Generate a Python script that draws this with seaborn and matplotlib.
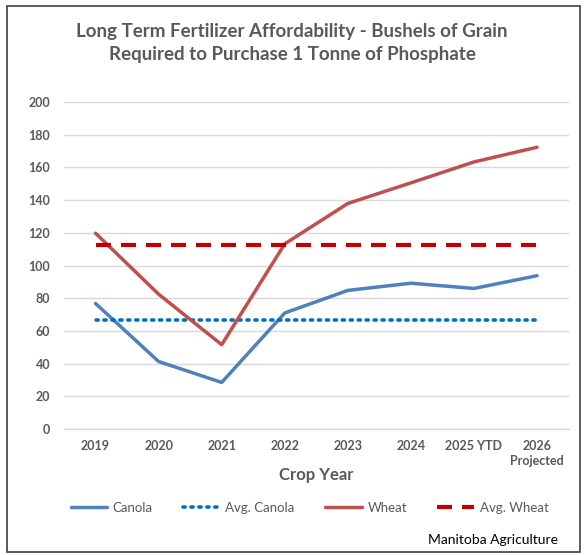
import matplotlib
matplotlib.use("Agg")
import matplotlib.pyplot as plt
import seaborn as sns
import pandas as pd
import numpy as np
from matplotlib.patches import Rectangle

years = ["2019", "2020", "2021", "2022", "2023", "2024", "2025 YTD", "2026\nProjected"]
canola = [76.8, 41.3, 28.5, 71.0, 84.8, 89.2, 86.0, 93.8]
wheat = [119.8, 82.5, 51.6, 113.3, 138.0, 150.6, 163.4, 172.4]
avg_canola_value = 66.4
avg_wheat_value = 112.4
y_ticks = [0, 20, 40, 60, 80, 100, 120, 140, 160, 180, 200]

sns.set_theme(style="white")
plt.rcParams['font.family'] = ['Lato', 'DejaVu Sans']

n = len(years)
df = pd.DataFrame({
    "pos": list(range(n)) * 4,
    "value": canola + [avg_canola_value] * n + wheat + [avg_wheat_value] * n,
    "series": ["Canola"] * n + ["Avg. Canola"] * n + ["Wheat"] * n + ["Avg. Wheat"] * n,
})

fig = plt.figure(figsize=(5.84, 5.55), dpi=100)
ax = fig.add_axes([0.1096, 0.227, 0.864, 0.589])

palette = {"Canola": "#4F81BD", "Avg. Canola": "#0070C0", "Wheat": "#C0504D", "Avg. Wheat": "#C00000"}
styles = {"Canola": (None, 2.5), "Avg. Canola": ((0, (0.6, 1.6)), 2.6),
          "Wheat": (None, 2.5), "Avg. Wheat": ((0, (3.6, 2.4)), 3.0)}

for name in ["Canola", "Avg. Canola", "Wheat", "Avg. Wheat"]:
    sub = df[df.series == name]
    ls, lw = styles[name]
    sns.lineplot(data=sub, x="pos", y="value", ax=ax, color=palette[name],
                 linewidth=lw, label=name, legend=False)
    line = ax.lines[-1]
    if ls is not None:
        line.set_linestyle(ls)
        if name == "Avg. Canola":
            line.set_dash_capstyle("round")

ax.set_xlim(-0.5, n - 0.5)
ax.set_ylim(0, 200)
ax.set_yticks(y_ticks)
ax.set_yticklabels([str(t) for t in y_ticks], fontsize=9, fontweight="bold", color="#595959")
ax.set_xticks(range(n))
ax.set_xticklabels(years, fontsize=9, fontweight="bold", color="#595959", linespacing=1.25, va="top")
ax.set_xticks(np.arange(-0.5, n, 1.0), minor=True)
ax.tick_params(axis="x", which="major", length=0, pad=8)
ax.tick_params(axis="x", which="minor", length=5, color="#D9D9D9", width=1)
ax.tick_params(axis="y", length=0, pad=10)
for lbl in ax.get_yticklabels():
    lbl.set_horizontalalignment("right")

ax.grid(axis="y", color="#D9D9D9", linewidth=1)
ax.set_axisbelow(True)
for s in ["left", "right", "top"]:
    ax.spines[s].set_visible(False)
ax.spines["bottom"].set_color("#D9D9D9")
ax.spines["bottom"].set_linewidth(1)

ax.set_xlabel("Crop Year", fontsize=12, fontweight="bold", color="#595959", labelpad=0)
ax.set_ylabel("")

fig.text(0.5, 0.923, "Long Term Fertilizer Affordability - Bushels of Grain\nRequired to Purchase 1 Tonne of Phosphate",
         ha="center", va="center", fontsize=13.5, fontweight="bold", color="#595959", linespacing=1.45)

handles, labels = ax.get_legend_handles_labels()
leg = fig.legend(handles, labels, loc="center", bbox_to_anchor=(0.53, 0.085), ncol=4, frameon=False,
                 fontsize=9.5, handlelength=2.8, columnspacing=2.3, handletextpad=0.4)
for t in leg.get_texts():
    t.set_color("#595959")

fig.text(0.955, 0.027, "Manitoba Agriculture", ha="right", va="center", fontsize=10, color="black")

fig.patches.append(Rectangle((0.012, 0.006), 0.982, 0.983, transform=fig.transFigure,
                             fill=False, edgecolor="#404040", linewidth=1.2))

fig.savefig("out.png", dpi=100)
